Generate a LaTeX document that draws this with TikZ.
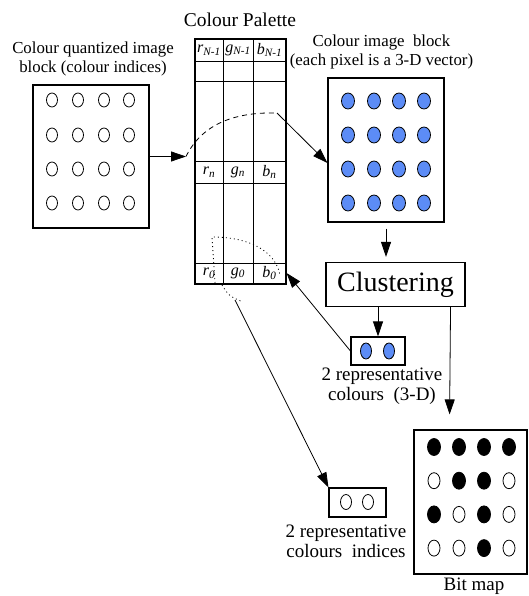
\documentclass[tikz,border=0pt]{standalone}
\usepackage{fontspec}
\setmainfont{Liberation Serif}
\usetikzlibrary{positioning, arrows.meta, calc, shapes.geometric}
\definecolor{dotblue}{RGB}{92,140,246}

\begin{document}
\begin{tikzpicture}[x=1pt, y=-1pt,
    block/.style={draw, line width=1.1pt, inner sep=0pt},
    pix/.style={ellipse, draw, line width=0.8pt, inner sep=0pt, minimum width=11pt, minimum height=14pt},
    bluepix/.style={pix, fill=dotblue, minimum width=13pt, minimum height=16pt},
    blackpix/.style={pix, fill=black, minimum width=13pt, minimum height=17pt},
    cell/.style={inner sep=0pt, font=\fontsize{16}{18}\selectfont\itshape},
    toplabel/.style={align=center, inner sep=0pt, font=\fontsize{16.8}{19}\selectfont},
    lowlabel/.style={align=center, inner sep=0pt, font=\fontsize{19}{20}\selectfont},
    arr/.style={-{Triangle[length=15pt, width=10pt]}, line width=0.8pt}]
  \useasboundingbox (0,0) rectangle (528,596);

  % colour palette
  \node[inner sep=0pt, font=\fontsize{19.5}{22}\selectfont] (paltitle) at (240,20) {Colour Palette};
  \node[block, minimum width=91pt, minimum height=245pt] (pal) at (240.5,161.5) {};
  \foreach \y in {61,81,161,183,263}
    \draw[line width=0.9pt] (195,\y) -- (286,\y);
  \foreach \x in {223,253}
    \draw[line width=0.9pt] (\x,39) -- (\x,284);
  \node[cell] (rtop) at (209,50) {r\textsubscript{N-1}};
  \node[cell] (gtop) at (238,50) {g\textsubscript{N-1}};
  \node[cell] (btop) at (269.5,50) {b\textsubscript{N-1}};
  \node[cell] (rn) at (209,172) {r\textsubscript{n}};
  \node[cell] (gn) at (238,172) {g\textsubscript{n}};
  \node[cell] (bn) at (269.5,172) {b\textsubscript{n}};
  \node[cell] (r0) at (209,273) {r\textsubscript{0}};
  \node[cell] (g0) at (238,273) {g\textsubscript{0}};
  \node[cell] (b0) at (269.5,273) {b\textsubscript{0}};

  % quantized block
  \node[toplabel] (qtitle) at (93,59) {Colour quantized image\\block (colour indices)};
  \node[block, minimum width=116pt, minimum height=143pt] (qblock) at (91,156.5) {};
  \foreach \x [count=\i] in {52,78,104,129}
    \foreach \y [count=\j] in {100,135,169,203}
      \node[pix] (q\i\j) at (\x,\y) {};

  % colour block
  \node[toplabel] (ctitle) at (381.5,52) {Colour image~ block\\(each pixel is a 3-D vector)};
  \node[block, minimum width=116pt, minimum height=144pt] (cblock) at (386,150) {};
  \foreach \x [count=\i] in {348,374,399,424}
    \foreach \y [count=\j] in {101,135,169,203}
      \node[bluepix] (c\i\j) at (\x,\y) {};

  \node[block, minimum width=139pt, minimum height=44pt, font=\fontsize{28}{30}\selectfont] (clust) at (395.5,284.5) {Clustering};

  \node[block, minimum width=54pt, minimum height=28pt] (rep3d) at (378,351) {};
  \node[bluepix, minimum width=11pt] (rc1) at (366,351) {};
  \node[bluepix, minimum width=11pt] (rc2) at (389,351) {};
  \node[lowlabel] (rep3dlab) at (382,386) {2 representative\\colours~ (3-D)};

  \node[block, minimum width=57pt, minimum height=29pt] (rep2d) at (357.5,502.5) {};
  \node[pix, minimum height=15pt] (ri1) at (346,502) {};
  \node[pix, minimum height=15pt] (ri2) at (368,502) {};
  \node[lowlabel] (rep2dlab) at (346,541) {2 representative\\colours~ indices};

  % bit map
  \node[block, minimum width=113pt, minimum height=144pt] (bmap) at (470.5,502) {};
  \foreach \row [count=\j] in {{1,1,1,1},{0,1,1,0},{1,0,1,0},{0,0,1,0}}
    \foreach \b [count=\i] in \row {
      \ifnum\b=1
        \node[blackpix] (m\i\j) at (409+25*\i, 447+33.7*\j-33.7) {};
      \else
        \node[pix, minimum width=12pt, minimum height=16pt] (m\i\j) at (409+25*\i, 447+33.7*\j-33.7) {};
      \fi
    }
  \node[lowlabel] (bmlab) at (474,586) {Bit map};

  % connectors
  \coordinate (dstart) at (186,156.5);
  \coordinate (dend) at (277,113);
  \draw[arr] (qblock.east) -- (dstart);
  \draw[line width=0.8pt, dash pattern=on 5pt off 4pt] (dstart) .. controls (203,122) and (238,112) .. (dend);
  \draw[arr] (dend) -- ($(cblock.west)+(0,13)$);
  \draw[arr, shorten <=6pt, shorten >=5pt] (cblock.south) -- (cblock.south |- clust.north);
  \draw[arr] (rep3d.north |- clust.south) -- (rep3d.north);
  \draw[arr, shorten >=15pt] ($(clust.south east)+(-15,0)$) -- ($(bmap.north west)+(36,0)$);
  \draw[arr] (rep3d.west) -- (pal.east |- b0);

  \coordinate (dtop) at (212,237);
  \coordinate (dlink) at (235,300);
  \draw[line width=0.8pt, dash pattern=on 1pt off 3pt] (215,283) -- (dtop) .. controls (248,237) and (275,250) .. (280,275);
  \draw[line width=0.8pt, dash pattern=on 1pt off 3pt] (222,285) .. controls (229,296) .. (243,302);
  \draw[arr] (dlink) -- (rep2d.north west);
\end{tikzpicture}
\end{document}
